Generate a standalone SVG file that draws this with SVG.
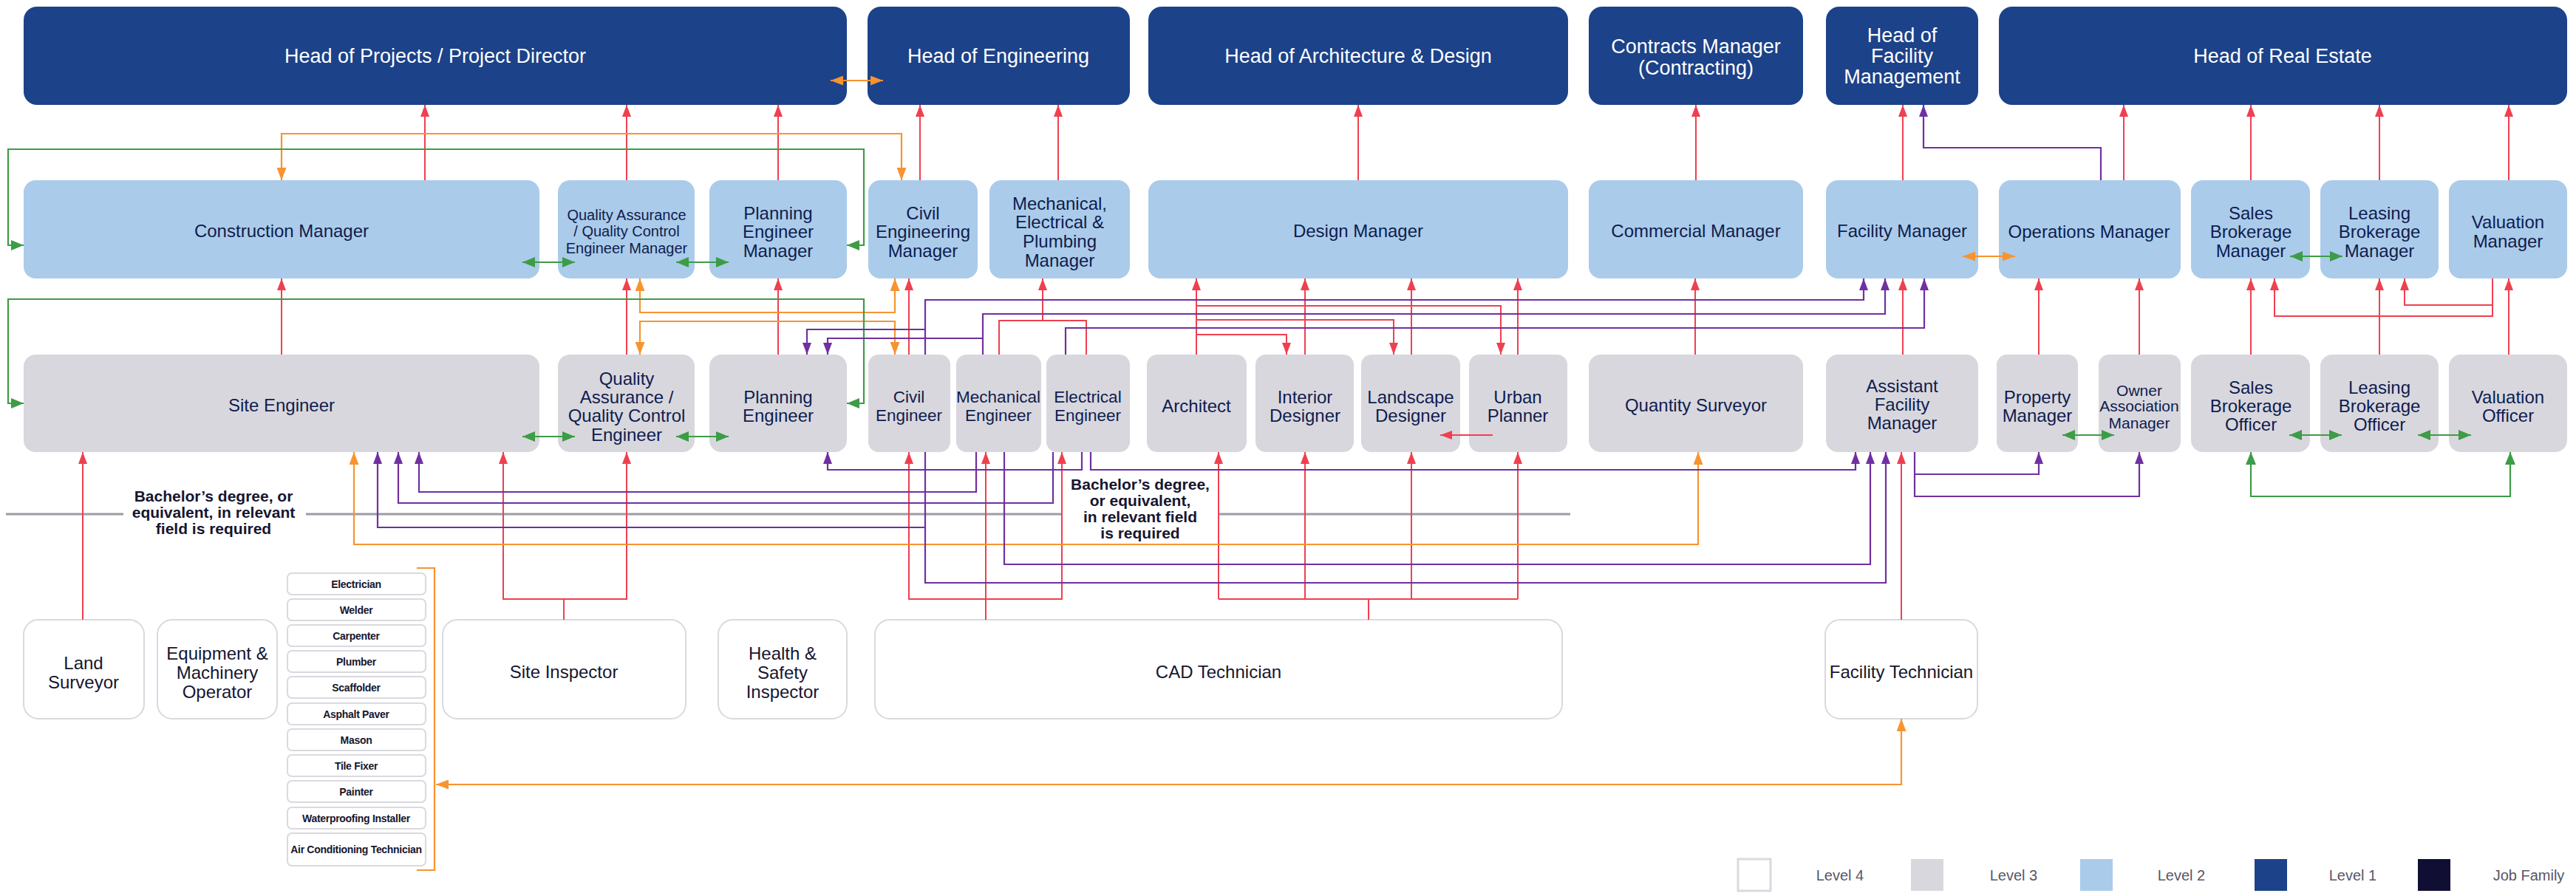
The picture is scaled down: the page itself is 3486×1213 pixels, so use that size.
<svg xmlns="http://www.w3.org/2000/svg" width="3486" height="1213" viewBox="0 0 3486 1213">
<style>
.l1{fill:#1c4289}
.l2{fill:#abcbea}
.l3{fill:#d9d7de}
.l4{fill:#ffffff;stroke:#d9d9df;stroke-width:2}
.tr{fill:#ffffff;stroke:#d9d9df;stroke-width:2}
text{font-family:"Liberation Sans",Arial,sans-serif;text-anchor:middle;dominant-baseline:central}
.tw{fill:#ffffff;font-size:27px}
.t2{fill:#0e1d4e;font-size:24px}
.t3{fill:#0e1d4e;font-size:24px}
.t3n{fill:#0e1d4e;font-size:22.5px}
.t3s{fill:#0e1d4e;font-size:21px}
.tq{fill:#0e1d4e;font-size:20px}
.t4{fill:#16162f;font-size:24px}
.tt{fill:#16162f;font-size:14px;font-weight:bold;letter-spacing:-0.3px}
.tb{fill:#16162f;font-size:21px;font-weight:bold}
.tl{fill:#56566a;font-size:20px}
.r{stroke:#ef4050;stroke-width:2;fill:none}
.o{stroke:#f7942f;stroke-width:2.2;fill:none}
.g{stroke:#3d9c46;stroke-width:2.2;fill:none}
.p{stroke:#7030a0;stroke-width:2.2;fill:none}
.gr{stroke:#9b9ba6;stroke-width:3;fill:none}
</style>
<defs>
<marker id="mr" markerUnits="userSpaceOnUse" markerWidth="16" markerHeight="12" refX="16" refY="6" orient="auto-start-reverse" viewBox="0 0 16 12"><path d="M0,0L16,6L0,12z" fill="#ef4050"/></marker>
<marker id="mo" markerUnits="userSpaceOnUse" markerWidth="17" markerHeight="13" refX="17" refY="6.5" orient="auto-start-reverse" viewBox="0 0 17 13"><path d="M0,0L17,6.5L0,13z" fill="#f7942f"/></marker>
<marker id="mg" markerUnits="userSpaceOnUse" markerWidth="17" markerHeight="14" refX="17" refY="7" orient="auto-start-reverse" viewBox="0 0 17 14"><path d="M0,0L17,7L0,14z" fill="#3d9c46"/></marker>
<marker id="mp" markerUnits="userSpaceOnUse" markerWidth="16" markerHeight="12" refX="16" refY="6" orient="auto-start-reverse" viewBox="0 0 16 12"><path d="M0,0L16,6L0,12z" fill="#7030a0"/></marker>
</defs>
<rect width="3486" height="1213" fill="#ffffff"/>

<g id="nodes-level1">
<g id="n-head-projects"><rect class="l1" x="32" y="9" width="1114" height="133" rx="18"/><text class="tw" x="589" y="76">Head of Projects / Project Director</text></g>
<g id="n-head-engineering"><rect class="l1" x="1174" y="9" width="355" height="133" rx="18"/><text class="tw" x="1351" y="76">Head of Engineering</text></g>
<g id="n-head-architecture"><rect class="l1" x="1554" y="9" width="568" height="133" rx="18"/><text class="tw" x="1838" y="76">Head of Architecture &amp; Design</text></g>
<g id="n-contracts-manager"><rect class="l1" x="2150" y="9" width="290" height="133" rx="18"/><text class="tw"><tspan x="2295" y="63">Contracts Manager</tspan><tspan x="2295" y="92">(Contracting)</tspan></text></g>
<g id="n-head-fm"><rect class="l1" x="2471" y="9" width="206" height="133" rx="18"/><text class="tw"><tspan x="2574" y="48">Head of</tspan><tspan x="2574" y="76">Facility</tspan><tspan x="2574" y="104">Management</tspan></text></g>
<g id="n-head-real-estate"><rect class="l1" x="2705" y="9" width="769" height="133" rx="18"/><text class="tw" x="3089" y="76">Head of Real Estate</text></g>
</g>

<g id="nodes-level2">
<g id="n-construction-manager"><rect class="l2" x="32" y="244" width="698" height="133" rx="16"/><text class="t2" x="381" y="312">Construction Manager</text></g>
<g id="n-qaqc-manager"><rect class="l2" x="755" y="244" width="185" height="133" rx="16"/><text class="tq"><tspan x="848" y="291">Quality Assurance</tspan><tspan x="848" y="313">/ Quality Control</tspan><tspan x="848" y="336">Engineer Manager</tspan></text></g>
<g id="n-planning-manager"><rect class="l2" x="960" y="244" width="186" height="133" rx="16"/><text class="t2"><tspan x="1053" y="288">Planning</tspan><tspan x="1053" y="313">Engineer</tspan><tspan x="1053" y="339">Manager</tspan></text></g>
<g id="n-civil-manager"><rect class="l2" x="1175" y="244" width="148" height="133" rx="16"/><text class="t2"><tspan x="1249" y="288">Civil</tspan><tspan x="1249" y="313">Engineering</tspan><tspan x="1249" y="339">Manager</tspan></text></g>
<g id="n-mep-manager"><rect class="l2" x="1339" y="244" width="190" height="133" rx="16"/><text class="t2"><tspan x="1434" y="275">Mechanical,</tspan><tspan x="1434" y="300">Electrical &amp;</tspan><tspan x="1434" y="326">Plumbing</tspan><tspan x="1434" y="352">Manager</tspan></text></g>
<g id="n-design-manager"><rect class="l2" x="1554" y="244" width="568" height="133" rx="16"/><text class="t2" x="1838" y="312">Design Manager</text></g>
<g id="n-commercial-manager"><rect class="l2" x="2150" y="244" width="290" height="133" rx="16"/><text class="t2" x="2295" y="312">Commercial Manager</text></g>
<g id="n-facility-manager"><rect class="l2" x="2471" y="244" width="206" height="133" rx="16"/><text class="t2" x="2574" y="312">Facility Manager</text></g>
<g id="n-operations-manager"><rect class="l2" x="2705" y="244" width="246" height="133" rx="16"/><text class="t2" x="2827" y="313">Operations Manager</text></g>
<g id="n-sales-manager"><rect class="l2" x="2965" y="244" width="161" height="133" rx="16"/><text class="t2"><tspan x="3046" y="288">Sales</tspan><tspan x="3046" y="313">Brokerage</tspan><tspan x="3046" y="339">Manager</tspan></text></g>
<g id="n-leasing-manager"><rect class="l2" x="3140" y="244" width="160" height="133" rx="16"/><text class="t2"><tspan x="3220" y="288">Leasing</tspan><tspan x="3220" y="313">Brokerage</tspan><tspan x="3220" y="339">Manager</tspan></text></g>
<g id="n-valuation-manager"><rect class="l2" x="3314" y="244" width="160" height="133" rx="16"/><text class="t2"><tspan x="3394" y="300">Valuation</tspan><tspan x="3394" y="326">Manager</tspan></text></g>
</g>

<g id="nodes-level3">
<g id="n-site-engineer"><rect class="l3" x="32" y="480" width="698" height="132" rx="16"/><text class="t3" x="381" y="548">Site Engineer</text></g>
<g id="n-qaqc-engineer"><rect class="l3" x="755" y="480" width="185" height="132" rx="16"/><text class="t3"><tspan x="848" y="512">Quality</tspan><tspan x="848" y="537">Assurance /</tspan><tspan x="848" y="562">Quality Control</tspan><tspan x="848" y="588">Engineer</tspan></text></g>
<g id="n-planning-engineer"><rect class="l3" x="960" y="480" width="186" height="132" rx="16"/><text class="t3"><tspan x="1053" y="537">Planning</tspan><tspan x="1053" y="562">Engineer</tspan></text></g>
<g id="n-civil-engineer"><rect class="l3" x="1175" y="480" width="111" height="132" rx="14"/><text class="t3n"><tspan x="1230" y="537">Civil</tspan><tspan x="1230" y="562">Engineer</tspan></text></g>
<g id="n-mechanical-engineer"><rect class="l3" x="1294" y="480" width="115" height="132" rx="14"/><text class="t3n"><tspan x="1351" y="537">Mechanical</tspan><tspan x="1351" y="562">Engineer</tspan></text></g>
<g id="n-electrical-engineer"><rect class="l3" x="1416" y="480" width="113" height="132" rx="14"/><text class="t3n"><tspan x="1472" y="537">Electrical</tspan><tspan x="1472" y="562">Engineer</tspan></text></g>
<g id="n-architect"><rect class="l3" x="1552" y="480" width="135" height="132" rx="14"/><text class="t3" x="1619" y="549">Architect</text></g>
<g id="n-interior-designer"><rect class="l3" x="1699" y="480" width="133" height="132" rx="14"/><text class="t3"><tspan x="1766" y="537">Interior</tspan><tspan x="1766" y="562">Designer</tspan></text></g>
<g id="n-landscape-designer"><rect class="l3" x="1842" y="480" width="134" height="132" rx="14"/><text class="t3"><tspan x="1909" y="537">Landscape</tspan><tspan x="1909" y="562">Designer</tspan></text></g>
<g id="n-urban-planner"><rect class="l3" x="1988" y="480" width="133" height="132" rx="14"/><text class="t3"><tspan x="2054" y="537">Urban</tspan><tspan x="2054" y="562">Planner</tspan></text></g>
<g id="n-quantity-surveyor"><rect class="l3" x="2150" y="480" width="290" height="132" rx="16"/><text class="t3" x="2295" y="548">Quantity Surveyor</text></g>
<g id="n-assistant-fm"><rect class="l3" x="2471" y="480" width="206" height="132" rx="16"/><text class="t3"><tspan x="2574" y="522">Assistant</tspan><tspan x="2574" y="547">Facility</tspan><tspan x="2574" y="572">Manager</tspan></text></g>
<g id="n-property-manager"><rect class="l3" x="2702" y="480" width="110" height="132" rx="14"/><text class="t3"><tspan x="2757" y="537">Property</tspan><tspan x="2757" y="562">Manager</tspan></text></g>
<g id="n-owner-association"><rect class="l3" x="2840" y="480" width="111" height="132" rx="14"/><text class="t3s"><tspan x="2895" y="528">Owner</tspan><tspan x="2895" y="549">Association</tspan><tspan x="2895" y="572">Manager</tspan></text></g>
<g id="n-sales-officer"><rect class="l3" x="2965" y="480" width="161" height="132" rx="16"/><text class="t3"><tspan x="3046" y="524">Sales</tspan><tspan x="3046" y="549">Brokerage</tspan><tspan x="3046" y="574">Officer</tspan></text></g>
<g id="n-leasing-officer"><rect class="l3" x="3140" y="480" width="160" height="132" rx="16"/><text class="t3"><tspan x="3220" y="524">Leasing</tspan><tspan x="3220" y="549">Brokerage</tspan><tspan x="3220" y="574">Officer</tspan></text></g>
<g id="n-valuation-officer"><rect class="l3" x="3314" y="480" width="160" height="132" rx="16"/><text class="t3"><tspan x="3394" y="537">Valuation</tspan><tspan x="3394" y="562">Officer</tspan></text></g>
</g>

<g id="nodes-level4">
<g id="n-land-surveyor"><rect class="l4" x="32" y="839" width="163" height="134" rx="20"/><text class="t4"><tspan x="113" y="897">Land</tspan><tspan x="113" y="923">Surveyor</tspan></text></g>
<g id="n-equipment-operator"><rect class="l4" x="213" y="839" width="162" height="134" rx="20"/><text class="t4"><tspan x="294" y="884">Equipment &amp;</tspan><tspan x="294" y="910">Machinery</tspan><tspan x="294" y="936">Operator</tspan></text></g>
<g id="n-trades">
<rect class="tr" x="389" y="776" width="187" height="29" rx="6"/><text class="tt" x="482" y="791">Electrician</text>
<rect class="tr" x="389" y="811" width="187" height="29" rx="6"/><text class="tt" x="482" y="826">Welder</text>
<rect class="tr" x="389" y="846" width="187" height="29" rx="6"/><text class="tt" x="482" y="861">Carpenter</text>
<rect class="tr" x="389" y="881" width="187" height="29" rx="6"/><text class="tt" x="482" y="896">Plumber</text>
<rect class="tr" x="389" y="916" width="187" height="29" rx="6"/><text class="tt" x="482" y="931">Scaffolder</text>
<rect class="tr" x="389" y="952" width="187" height="29" rx="6"/><text class="tt" x="482" y="967">Asphalt Paver</text>
<rect class="tr" x="389" y="987" width="187" height="29" rx="6"/><text class="tt" x="482" y="1002">Mason</text>
<rect class="tr" x="389" y="1022" width="187" height="29" rx="6"/><text class="tt" x="482" y="1037">Tile Fixer</text>
<rect class="tr" x="389" y="1057" width="187" height="29" rx="6"/><text class="tt" x="482" y="1072">Painter</text>
<rect class="tr" x="389" y="1093" width="187" height="29" rx="6"/><text class="tt" x="482" y="1108">Waterproofing Installer</text>
<rect class="tr" x="389" y="1128" width="187" height="44" rx="6"/><text class="tt" x="482" y="1150">Air Conditioning Technician</text>
</g>
<g id="n-site-inspector"><rect class="l4" x="599" y="839" width="329" height="134" rx="20"/><text class="t4" x="763" y="909">Site Inspector</text></g>
<g id="n-hs-inspector"><rect class="l4" x="972" y="839" width="174" height="134" rx="20"/><text class="t4"><tspan x="1059" y="884">Health &amp;</tspan><tspan x="1059" y="910">Safety</tspan><tspan x="1059" y="936">Inspector</tspan></text></g>
<g id="n-cad-technician"><rect class="l4" x="1184" y="839" width="930" height="134" rx="20"/><text class="t4" x="1649" y="909">CAD Technician</text></g>
<g id="n-facility-technician"><rect class="l4" x="2470" y="839" width="206" height="134" rx="20"/><text class="t4" x="2573" y="909">Facility Technician</text></g>
</g>

<g id="requirement-notes">
<path class="gr" d="M8,696H167M414,696H1437M1650,696H2125"/>
<text class="tb"><tspan x="289" y="671">Bachelor’s degree, or</tspan><tspan x="289" y="693">equivalent, in relevant</tspan><tspan x="289" y="715">field is required</tspan></text>
<text class="tb"><tspan x="1543" y="655">Bachelor’s degree,</tspan><tspan x="1543" y="677">or equivalent,</tspan><tspan x="1543" y="699">in relevant field</tspan><tspan x="1543" y="721">is required</tspan></text>
</g>

<g id="connectors">
<g id="red" class="r">
<path d="M575,244V142" marker-end="url(#mr)"/><path d="M848,244V142" marker-end="url(#mr)"/><path d="M1053,244V142" marker-end="url(#mr)"/><path d="M1245,244V142" marker-end="url(#mr)"/><path d="M1432,244V142" marker-end="url(#mr)"/><path d="M1838,244V142" marker-end="url(#mr)"/><path d="M2295,244V142" marker-end="url(#mr)"/><path d="M2575,244V142" marker-end="url(#mr)"/><path d="M2874,244V142" marker-end="url(#mr)"/><path d="M3046,244V142" marker-end="url(#mr)"/><path d="M3220,244V142" marker-end="url(#mr)"/><path d="M3395,244V142" marker-end="url(#mr)"/>
<path d="M381,480V377" marker-end="url(#mr)"/><path d="M848,480V377" marker-end="url(#mr)"/><path d="M1053,480V377" marker-end="url(#mr)"/><path d="M1230,480V377" marker-end="url(#mr)"/>
<path d="M1352,480V434H1470V480"/><path d="M1411,434V377" marker-end="url(#mr)"/>
<path d="M1619,480V377" marker-end="url(#mr)"/>
<path d="M1619,453H1741V480" marker-end="url(#mr)"/><path d="M1619,433H1886V480" marker-end="url(#mr)"/><path d="M1619,414H2031V480" marker-end="url(#mr)"/>
<path d="M1766,480V377" marker-end="url(#mr)"/><path d="M1910,480V377" marker-end="url(#mr)"/><path d="M2054,480V377" marker-end="url(#mr)"/>
<path d="M2020,589H1949" marker-end="url(#mr)"/>
<path d="M2294,480V377" marker-end="url(#mr)"/><path d="M2575,480V377" marker-end="url(#mr)"/><path d="M2759,480V377" marker-end="url(#mr)"/><path d="M2895,480V377" marker-end="url(#mr)"/><path d="M3046,480V377" marker-end="url(#mr)"/><path d="M3220,480V377" marker-end="url(#mr)"/><path d="M3395,480V377" marker-end="url(#mr)"/>
<path d="M3373,377V428H3078V377" marker-end="url(#mr)"/><path d="M3373,413H3254V377" marker-end="url(#mr)"/>
<path d="M112,839V612" marker-end="url(#mr)"/>
<path d="M763,839V811"/><path d="M681,612V811H848V612" marker-start="url(#mr)" marker-end="url(#mr)"/>
<path d="M1334,839V612" marker-end="url(#mr)"/><path d="M1230,612V811H1437V612" marker-start="url(#mr)" marker-end="url(#mr)"/>
<path d="M1852,839V811M1649,811H2054"/>
<path d="M1649,811V612" marker-end="url(#mr)"/><path d="M1766,811V612" marker-end="url(#mr)"/><path d="M1910,811V612" marker-end="url(#mr)"/><path d="M2054,811V612" marker-end="url(#mr)"/>
<path d="M2573,839V612" marker-end="url(#mr)"/>
</g>
<g id="orange" class="o">
<path d="M1124,109H1195" marker-start="url(#mo)" marker-end="url(#mo)"/>
<path d="M381,244V181H1220V244" marker-start="url(#mo)" marker-end="url(#mo)"/>
<path d="M866,377V423H1211V377" marker-start="url(#mo)" marker-end="url(#mo)"/>
<path d="M866,480V435H1211V480" marker-start="url(#mo)" marker-end="url(#mo)"/>
<path d="M479,612V737H2298V612" marker-start="url(#mo)" marker-end="url(#mo)"/>
<path d="M2656,347H2727" marker-start="url(#mo)" marker-end="url(#mo)"/>
<path d="M564,769H588V1178H564"/>
<path d="M590,1062H2573V973" marker-start="url(#mo)" marker-end="url(#mo)"/>
</g>
<g id="green" class="g">
<path d="M1146,332H1169V202H11V332H32" marker-start="url(#mg)" marker-end="url(#mg)"/>
<path d="M707,355H778" marker-start="url(#mg)" marker-end="url(#mg)"/>
<path d="M915,355H986" marker-start="url(#mg)" marker-end="url(#mg)"/>
<path d="M1146,546H1169V405H11V546H32" marker-start="url(#mg)" marker-end="url(#mg)"/>
<path d="M707,591H778" marker-start="url(#mg)" marker-end="url(#mg)"/>
<path d="M915,591H986" marker-start="url(#mg)" marker-end="url(#mg)"/>
<path d="M3099,347H3170" marker-start="url(#mg)" marker-end="url(#mg)"/>
<path d="M2791,589H2861" marker-start="url(#mg)" marker-end="url(#mg)"/>
<path d="M3098,589H3169" marker-start="url(#mg)" marker-end="url(#mg)"/>
<path d="M3272,589H3344" marker-start="url(#mg)" marker-end="url(#mg)"/>
<path d="M3046,612V672H3397V612" marker-start="url(#mg)" marker-end="url(#mg)"/>
</g>
<g id="purple" class="p">
<path d="M1252,480V406H2522V377" marker-end="url(#mp)"/>
<path d="M1252,446H1092V480" marker-end="url(#mp)"/>
<path d="M1330,480V425H2551V377" marker-end="url(#mp)"/>
<path d="M1330,458H1120V480" marker-end="url(#mp)"/>
<path d="M1442,480V444H2604V377" marker-end="url(#mp)"/>
<path d="M2843,244V200H2603V142" marker-end="url(#mp)"/>
<path d="M1252,612V789H2552V612" marker-end="url(#mp)"/>
<path d="M1252,714H511V612" marker-end="url(#mp)"/>
<path d="M1321,612V666H567V612" marker-end="url(#mp)"/>
<path d="M1359,612V764H2531V612" marker-end="url(#mp)"/>
<path d="M1425,612V681H539V612" marker-end="url(#mp)"/>
<path d="M1464,612V636H1120V612" marker-end="url(#mp)"/>
<path d="M1476,612V636H2511V612" marker-end="url(#mp)"/>
<path d="M2591,612V672H2895V612" marker-end="url(#mp)"/>
<path d="M2591,642H2759V612" marker-end="url(#mp)"/>
</g>
</g>

<g id="legend">
<rect x="2352" y="1163" width="44" height="43" fill="#ffffff" stroke="#d9d9df" stroke-width="3"/><text class="tl" x="2490" y="1185">Level 4</text>
<rect x="2586" y="1163" width="44" height="43" fill="#d9d7de"/><text class="tl" x="2725" y="1185">Level 3</text>
<rect x="2815" y="1163" width="44" height="43" fill="#abcbea"/><text class="tl" x="2952" y="1185">Level 2</text>
<rect x="3051" y="1163" width="44" height="43" fill="#1c4289"/><text class="tl" x="3184" y="1185">Level 1</text>
<rect x="3272" y="1163" width="44" height="43" fill="#100f33"/><text class="tl" x="3422" y="1185">Job Family</text>
</g>
</svg>
